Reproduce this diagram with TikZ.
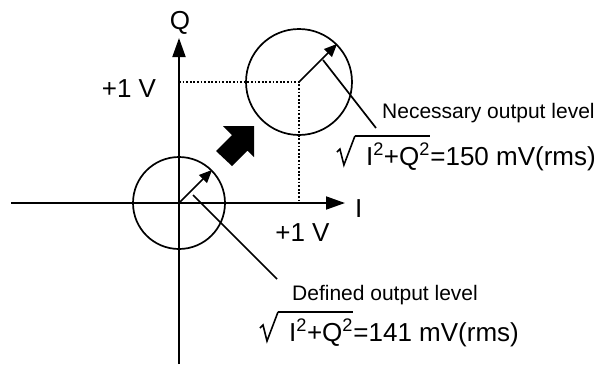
\documentclass[tikz,border=0pt]{standalone}
\usepackage{fontspec}
\setmainfont{Liberation Sans}
\usetikzlibrary{arrows.meta}

%% radical sign over a node
\newcommand{\rootmark}[1]{%
  \draw[radix] (#1.base west) ++(-29pt,13pt) -- ++(3pt,3pt) -- ++(4pt,-16pt)
    -- ++(11pt,29pt) coordinate (#1T);
  \draw[radix] (#1T) -- (#1T -| #1.east);}

\begin{document}
\begin{tikzpicture}[
  x=1pt, y=-1pt,
  axis/.style={line width=1.8pt, -{Triangle[length=19pt, width=13pt]}},
  ring/.style={circle, draw, line width=1.7pt, inner sep=0pt},
  vec/.style={line width=1.7pt, -{Triangle[length=13pt, width=11pt]}},
  lead/.style={line width=1.7pt},
  guide/.style={line width=1.8pt, dash pattern=on 1.8pt off 1.8pt},
  radix/.style={line width=1.6pt},
  big/.style={font=\fontsize{26}{31}\selectfont, inner sep=0pt},
  small/.style={font=\fontsize{21}{25}\selectfont, inner sep=0pt},
]
\useasboundingbox (0,0) rectangle (603,367);

%% Axes
\coordinate (O)  at (179,203);
\coordinate (Iw) at (11,203);
\coordinate (Ie) at (345,203);
\coordinate (Qs) at (179,364);
\coordinate (Qn) at (179,38);
\draw[axis] (Iw) -- (Ie);
\draw[axis] (Qs) -- (Qn);

%% +1 V guides
\coordinate (P) at (299,82);
\draw[guide] (O |- P) -- (P) -- (P |- O);

%% Circles and vectors
\node[ring, minimum size=92pt]  (lo) at (O) {};
\node[ring, minimum size=106pt] (hi) at (P) {};
\draw[vec] (lo.center) -- (lo.45);
\draw[vec] (hi.center) -- (hi.45);

%% Shift arrow
\fill (216,151) -- (232,135) -- (223,126) -- (254,126) -- (254,157)
  -- (247.5,150.5) -- (232,166) -- cycle;

%% Axis labels
\node[big, anchor=base] (qlab) at (180,29) {Q};
\node[big, anchor=base west] (ilab) at (355,217) {I};
\node[big, anchor=base] (vq) at (129,97) {+1 V};
\node[big, anchor=base] (vi) at (302.5,241) {+1 V};

%% Necessary output level
\node[small, anchor=base west] (nec) at (382,118) {Necessary output level};
\node[big, anchor=base east] (necV) at (596,165) {=150 mV(rms)};
\node[big, anchor=base east] (necR) at (necV.base west)
  {I\textsuperscript{2}+Q\textsuperscript{2}};
\rootmark{necR}

%% Defined output level
\node[small, anchor=base west] (def) at (292,300) {Defined output level};
\node[big, anchor=base west] (defR) at (289,341)
  {I\textsuperscript{2}+Q\textsuperscript{2}};
\node[big, anchor=base west] (defV) at (defR.base east) {=141 mV(rms)};
\rootmark{defR}

%% Leaders
\coordinate (hiA) at (323,60);
\coordinate (hiB) at (376,128);
\coordinate (loA) at (193,195);
\coordinate (loB) at (277,279);
\draw[lead] (hiA) -- (hiB);
\draw[lead] (loA) -- (loB);

\end{tikzpicture}
\end{document}
